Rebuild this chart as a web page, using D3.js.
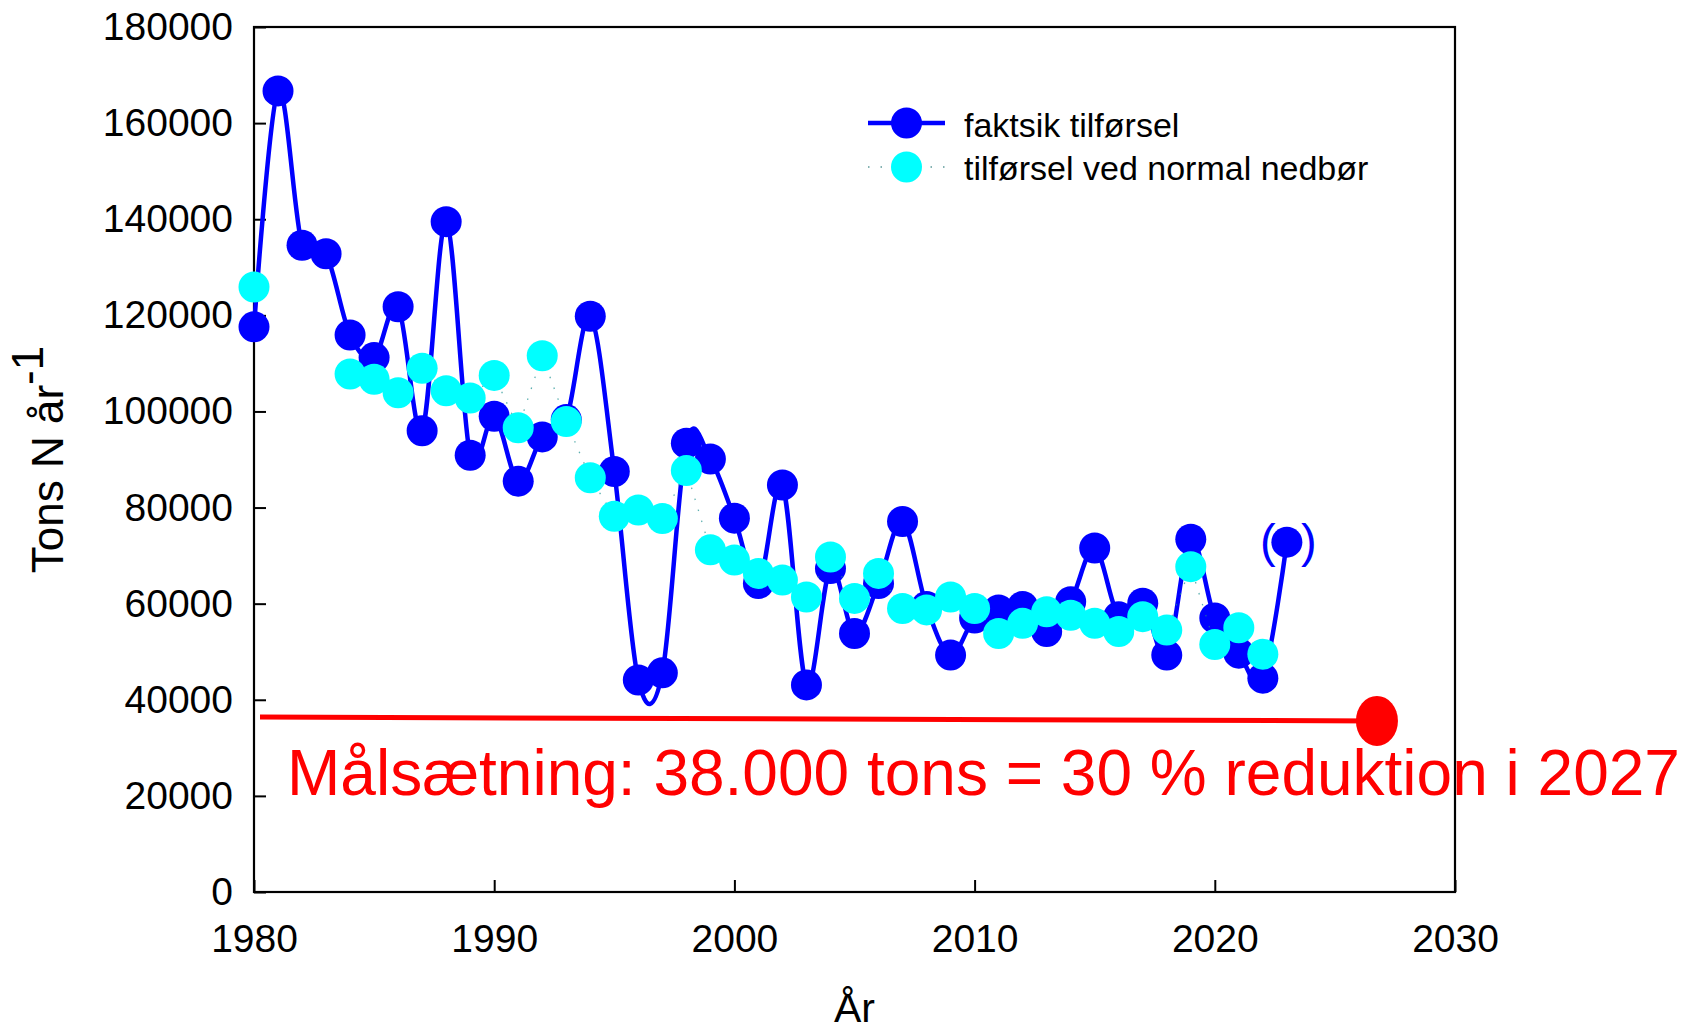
<!DOCTYPE html>
<html><head><meta charset="utf-8">
<script src="https://cdn.jsdelivr.net/npm/d3@7/dist/d3.min.js"></script>
<style>
body{margin:0;background:#fff}
svg{display:block}
text{font-family:"Liberation Sans",Arial,Helvetica,sans-serif}
</style>
</head><body>
<svg id="chart" width="1681" height="1033"></svg>
<script>
// ---- data ----
const years = [1980,1981,1982,1983,1984,1985,1986,1987,1988,1989,1990,1991,1992,1993,1994,1995,1996,1997,1998,1999,2000,2001,2002,2003,2004,2005,2006,2007,2008,2009,2010,2011,2012,2013,2014,2015,2016,2017,2018,2019,2020,2021,2022,2023];
const actualLoad = [117600,166700,134600,132800,115900,111200,121800,96000,139500,90900,99000,85500,94700,98300,119800,87500,44100,45600,93400,90100,77800,64200,84700,43100,67300,53800,64200,77100,59400,49300,57000,58700,59400,54200,60400,71600,57300,60100,49300,73400,57000,49700,44500,72800];
const normalLoad = [125900,null,null,null,107800,106700,103900,109000,104300,102800,107500,96600,111600,97900,86200,78200,79500,77700,87700,71200,69100,66300,64900,61400,69700,61100,66300,59000,58700,61400,59000,53800,55900,58300,57600,55900,54200,57300,54500,67700,51500,55000,49500,null];
const targetYears = [1980.25, 2026.75];
const targetValues = [36400, 35600];
const xTicks = [1980,1990,2000,2010,2020,2030];
const yTicks = [0,20000,40000,60000,80000,100000,120000,140000,160000,180000];
const seriesNames = ["faktsik tilførsel","tilførsel ved normal nedbør"];
const targetLabel = "Målsætning: 38.000 tons = 30 % reduktion i 2027";
const provisionalYear = 2023;

// ---- layout ----
const W = 1681, H = 1033;
const m = {left:254, right:226, top:27, bottom:141};
const svg = d3.select("#chart");
const x = d3.scaleLinear().domain([1980,2030]).range([m.left, W - m.right]);
const y = d3.scaleLinear().domain([0,180000]).range([H - m.bottom, m.top]);

const BLUE = "#0000ff", CYAN = "#00ffff", RED = "#ff0000";

// axes
const xAxis = d3.axisBottom(x).tickValues(xTicks).tickFormat(d3.format("d")).tickSize(-12).tickPadding(32);
const yAxis = d3.axisLeft(y).tickValues(yTicks).tickFormat(d3.format("d")).tickSize(-12).tickPadding(21);

const gx = svg.append("g").attr("transform",`translate(0,${H-m.bottom})`).call(xAxis);
const gy = svg.append("g").attr("transform",`translate(${m.left},0)`).call(yAxis);
[gx,gy].forEach(g=>{
  g.select(".domain").remove();
  g.selectAll(".tick line").attr("stroke","#000").attr("stroke-width",2);
  g.selectAll(".tick text").attr("font-size",39).attr("fill","#000")
    .attr("font-family",'"Liberation Sans",Arial,sans-serif');
});
// frame
svg.append("rect").attr("x",m.left).attr("y",m.top)
  .attr("width",W-m.left-m.right).attr("height",H-m.top-m.bottom)
  .attr("fill","none").attr("stroke","#000").attr("stroke-width",2.2);

// axis titles
svg.append("text").attr("x",(m.left + W - m.right)/2).attr("y",1022)
  .attr("text-anchor","middle").attr("font-size",41).attr("fill","#000").text("År");
const yt = svg.append("text").attr("transform",`translate(63,${(m.top+H-m.bottom)/2}) rotate(-90)`)
  .attr("text-anchor","middle").attr("font-size",44).attr("fill","#000");
yt.append("tspan").text("Tons N år");
yt.append("tspan").attr("dy",-20).text("-1");

// target line
const tData = targetYears.map((d,i)=>({x:d,v:targetValues[i]}));
svg.append("path").datum(tData)
  .attr("d", d3.line().x(d=>x(d.x)).y(d=>y(d.v)))
  .attr("stroke",RED).attr("stroke-width",5).attr("fill","none");
svg.append("ellipse").attr("cx",x(tData[1].x)).attr("cy",y(tData[1].v))
  .attr("rx",21).attr("ry",25).attr("fill",RED);

// actual series
const aData = years.map((d,i)=>({x:d,v:actualLoad[i]}));
const nData = years.map((d,i)=>({x:d,v:normalLoad[i]}));

svg.append("path").datum(aData)
  .attr("d", d3.line().x(d=>x(d.x)).y(d=>y(d.v)).curve(d3.curveCatmullRom.alpha(0)))
  .attr("stroke",BLUE).attr("stroke-width",4.5).attr("fill","none").attr("stroke-linejoin","round");
svg.append("g").selectAll("circle").data(aData).join("circle")
  .attr("cx",d=>x(d.x)).attr("cy",d=>y(d.v)).attr("r",15.5).attr("fill",BLUE);

// normal-precipitation series
svg.append("path").datum(nData)
  .attr("d", d3.line().defined(d=>d.v!=null).x(d=>x(d.x)).y(d=>y(d.v)))
  .attr("stroke","#1a8f8f").attr("stroke-width",1.3).attr("stroke-dasharray","1.5 10")
  .attr("fill","none").attr("opacity",0.7);
svg.append("g").selectAll("circle").data(nData.filter(d=>d.v!=null)).join("circle")
  .attr("cx",d=>x(d.x)).attr("cy",d=>y(d.v)).attr("r",15.5).attr("fill",CYAN);

// provisional parentheses around last point
const pv = actualLoad[years.indexOf(provisionalYear)];
svg.append("text").attr("x",x(provisionalYear)-19).attr("y",y(pv)+15)
  .attr("text-anchor","middle").attr("font-size",47).attr("fill",BLUE).text("(");
svg.append("text").attr("x",x(provisionalYear)+22).attr("y",y(pv)+15)
  .attr("text-anchor","middle").attr("font-size",47).attr("fill",BLUE).text(")");

// target label
svg.append("text").attr("x",287).attr("y",795).attr("font-size",64).attr("fill",RED).text(targetLabel);

// legend
const lg = svg.append("g");
lg.append("line").attr("x1",868).attr("x2",945).attr("y1",123).attr("y2",123)
  .attr("stroke",BLUE).attr("stroke-width",4.5);
lg.append("circle").attr("cx",906.5).attr("cy",123).attr("r",15.5).attr("fill",BLUE);
lg.append("text").attr("x",964).attr("y",136.5).attr("font-size",34).attr("fill","#000").text(seriesNames[0]);
lg.append("line").attr("x1",868).attr("x2",945).attr("y1",167).attr("y2",167)
  .attr("stroke","#1a6f6f").attr("stroke-width",1.3).attr("stroke-dasharray","1.5 11").attr("opacity",0.7);
lg.append("circle").attr("cx",906.5).attr("cy",167).attr("r",15.5).attr("fill",CYAN);
lg.append("text").attr("x",964).attr("y",180).attr("font-size",34).attr("fill","#000").text(seriesNames[1]);
</script>
</body></html>
